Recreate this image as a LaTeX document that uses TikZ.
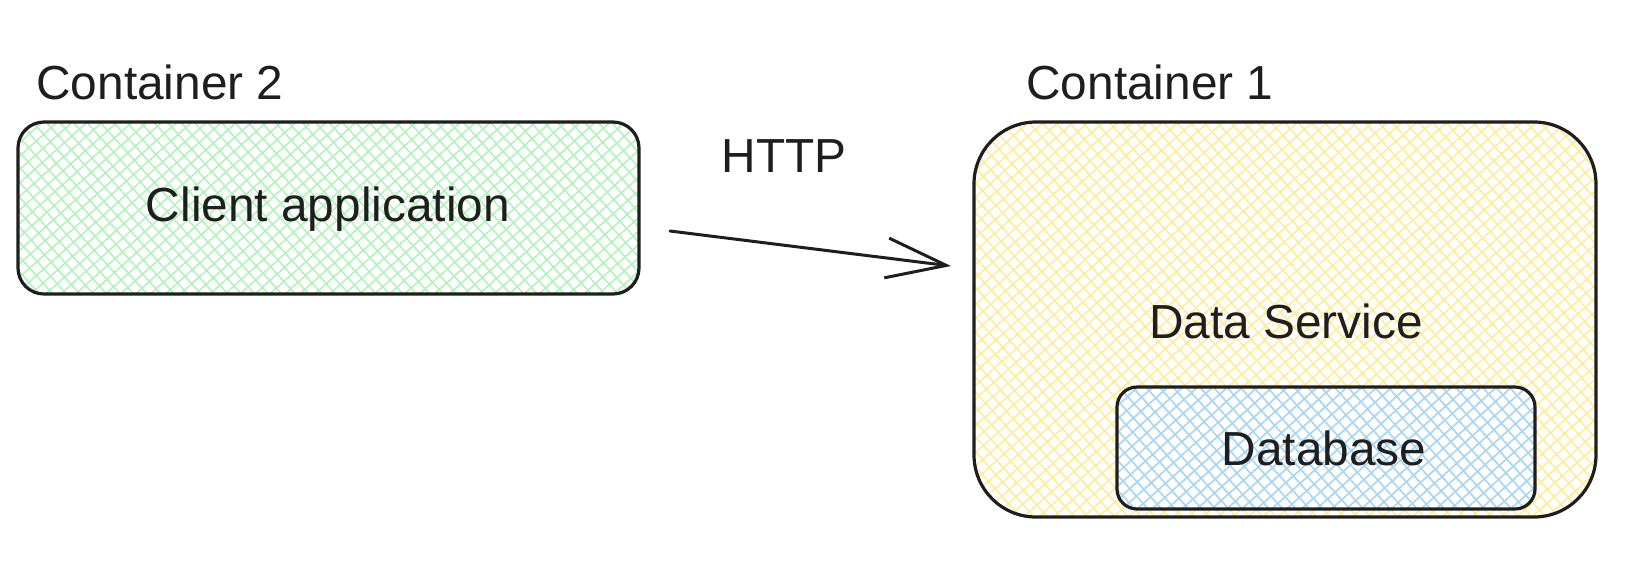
\documentclass[tikz,border=0pt]{standalone}
\usepackage{fontspec}
\setmainfont{Liberation Sans}
\usetikzlibrary{patterns.meta,arrows.meta}
\definecolor{hgreen}{HTML}{B2F2BB}
\definecolor{hyellow}{HTML}{FFEC99}
\definecolor{hblue}{HTML}{A5D8FF}
\definecolor{ink}{HTML}{1E1E1E}
\begin{document}
\begin{tikzpicture}[x=0.5pt,y=-0.5pt,
  box/.style={draw=ink, line width=1.6pt, line join=round, inner sep=0pt},
  hatch/.style={pattern={Hatch[angle=42,distance=5pt,line width=0.8pt]}, pattern color=#1},
  lbl/.style={text=ink, inner sep=0pt, font=\fontsize{23.9}{28}\selectfont},
  conn/.style={draw=ink, line width=1.5pt, line cap=round, -{Straight Barb[length=30pt,width=20pt,line width=1.5pt]}}
]
\useasboundingbox (0,0) rectangle (1630,564);
\node[box, hatch=hgreen, rounded corners=13pt, minimum width=310.5pt, minimum height=86pt] (client) at (328.5,208) {};
\node[box, hatch=hyellow, rounded corners=31pt, minimum width=311pt, minimum height=197.5pt] (svc) at (1285,319.5) {};
\node[box, hatch=hblue, rounded corners=10pt, minimum width=209pt, minimum height=61pt] (db) at (1326,448) {};
\node[lbl, anchor=base west] (c2) at (36,99) {Container 2};
\node[lbl, anchor=base west] (c1) at (1026,99) {Container 1};
\node[lbl] (clientt) at (328,209) {Client application};
\node[lbl] (svct) at (1286,321) {Data Service};
\node[lbl] (dbt) at (1324,448) {Database};
\node[lbl] (http) at (784,156) {HTTP};
\coordinate (a1) at (670,231);
\coordinate (a2) at (951,266);
\draw[conn] (a1) -- (a2);
\end{tikzpicture}
\end{document}
